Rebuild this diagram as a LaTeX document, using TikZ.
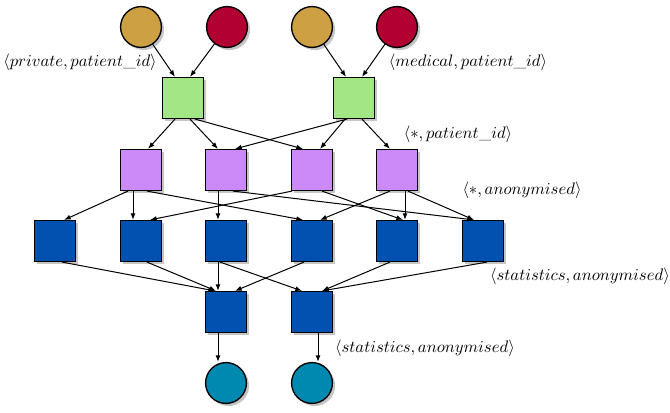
\documentclass[tikz,border=0pt]{standalone}
\usetikzlibrary{shadows,arrows.meta}
\definecolor{gold}{RGB}{206,160,68}
\definecolor{crimson}{RGB}{178,0,50}
\definecolor{lgreen}{RGB}{163,230,133}
\definecolor{lilac}{RGB}{203,138,248}
\definecolor{dblue}{RGB}{2,80,176}
\definecolor{teal}{RGB}{0,137,176}
\begin{document}
\begin{tikzpicture}[x=0.6pt,y=-0.6pt,
    shade/.style={drop shadow={shadow xshift=1.6pt,shadow yshift=-1.6pt,fill=black!45,opacity=0.5}},
    box/.style={draw,thick,minimum size=24.5pt,inner sep=0pt,shade},
    dot/.style={circle,draw,thick,minimum size=24.5pt,inner sep=0pt,shade},
    flow/.style={semithick,-{Latex[length=4pt,width=3pt]}}]
    \useasboundingbox (0,0) rectangle (670,412);

    % Sources
    \node[dot,fill=gold] (s1) at (141,27) {};
    \node[dot,fill=crimson] (s2) at (227,27) {};
    \node[dot,fill=gold] (s3) at (312,27) {};
    \node[dot,fill=crimson] (s4) at (397,27) {};

    % Joins
    \node[box,fill=lgreen] (j1) at (183,98) {};
    \node[box,fill=lgreen] (j2) at (354,98) {};

    % Filters and statistics
    \foreach \i/\x in {1/141,2/226,3/312,4/397}
        \node[box,fill=lilac] (p\i) at (\x,170) {};
    \foreach \i/\x in {1/55,2/141,3/226,4/312,5/397,6/483}
        \node[box,fill=dblue] (b\i) at (\x,241) {};
    \node[box,fill=dblue] (a1) at (226,312) {};
    \node[box,fill=dblue] (a2) at (312,312) {};

    % Sinks
    \node[dot,fill=teal] (t1) at (226,383) {};
    \node[dot,fill=teal] (t2) at (312,383) {};

    % Flows (offsets in px along the box sides)
    \foreach \a/\b/\v in {s1/j1/-8,s2/j1/7,s3/j2/-8,s4/j2/8}
        \draw[flow] (\a) -- ([xshift=\v*0.6pt]\b.north);
    \foreach \a/\b/\u/\v in {j1/p1/-8/7,j1/p2/7/-8,j1/p3/12/-9,
            j2/p2/-7/9,j2/p3/-9/8,j2/p4/8/-7,
            p1/b1/-13/9,p1/b2/-8/-8,p1/b4/6/-9,p2/b3/-8/-8,p2/b6/7/-9,
            p3/b2/-20/9,p3/b5/10/6,p4/b4/-7/8,p4/b5/8/8,p4/b6/11/-9,
            b1/a1/7/-11,b2/a1/6/-10,b3/a1/-8/-8,b4/a1/-8/9,
            b3/a2/-6/-10,b5/a2/-7/10,b6/a2/4/10,
            a1/t1/-8/-8,a2/t2/6/6}
        \draw[flow] ([xshift=\u*0.6pt]\a.south) -- ([xshift=\v*0.6pt]\b.north);

    % Labels
    \node (lprivate) at (80,62) {$\langle private, patient\_id\rangle$};
    \node (lmedical) at (468,62) {$\langle medical, patient\_id\rangle$};
    \node (lpatient) at (458,134) {$\langle *, patient\_id\rangle$};
    \node (lanon) at (522,190) {$\langle *, anonymised\rangle$};
    \node (lstats) at (580,276) {$\langle statistics, anonymised\rangle$};
    \node (lout) at (425,348) {$\langle statistics, anonymised\rangle$};
\end{tikzpicture}
\end{document}
